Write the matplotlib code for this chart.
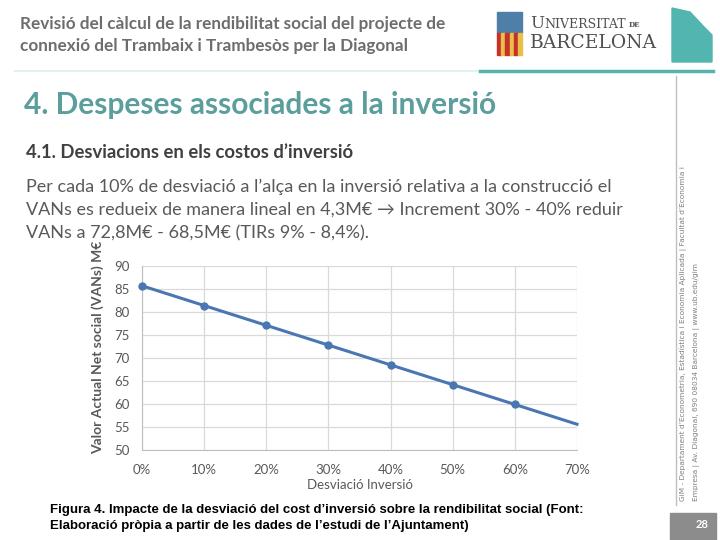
import matplotlib.pyplot as plt
from matplotlib.patches import Rectangle, Polygon
from matplotlib.lines import Line2D
from matplotlib.ticker import FuncFormatter

# data
desviacio = [0, 10, 20, 30, 40, 50, 60, 70]
vans = [85.7, 81.4, 77.1, 72.8, 68.5, 64.2, 59.9, 55.6]
y_ticks = [50, 55, 60, 65, 70, 75, 80, 85, 90]

W, H = 720, 540
fig = plt.figure(figsize=(7.2, 5.4), dpi=100)
fig.patch.set_facecolor("white")


def fx(px):
    return px / W


def fy(py):
    return 1 - py / H


def txt(x, y, s, **kw):
    kw.setdefault("va", "center")
    fig.text(fx(x), fy(y), s, **kw)


grey = "#7f7f7f"
teal = "#5b9e9c"

# header
txt(20, 24, "Revisió del càlcul de la rendibilitat social del projecte de",
    family="Lato", fontsize=12.3, color="#6d6d6d", fontweight="bold")
txt(20, 46, "connexió del Trambaix i Trambesòs per la Diagonal",
    family="Lato", fontsize=12.3, color="#6d6d6d", fontweight="bold")

# UB logo (simplified)
fig.add_artist(Rectangle((fx(497), fy(33)), fx(25), 21 / H, color="#4f7fa8"))
for i in range(6):
    c = "#c8302a" if i % 2 == 0 else "#e6c04a"
    fig.add_artist(Rectangle((fx(497 + i * 4.2), fy(55)), fx(4.2), 22 / H, color=c))
txt(530, 23, "U", family="DejaVu Serif", fontsize=12, color="#505050")
txt(544, 24, "NIVERSITAT", family="DejaVu Serif", fontsize=9, color="#505050")
txt(629, 25, "DE", family="DejaVu Serif", fontsize=5, color="#505050", fontweight="bold")
txt(530, 43, "BARCELONA", family="DejaVu Serif", fontsize=13.5, color="#505050")

# building image stand-in
fig.add_artist(Polygon([(fx(672), fy(8)), (fx(690), fy(12)), (fx(705), fy(28)),
                        (fx(712), fy(35)), (fx(712), fy(62)), (fx(672), fy(62))],
                       closed=True, color="#52b5b0"))
fig.add_artist(Line2D([fx(15), fx(480)], [fy(71), fy(71)], color="#e0f2f1", lw=1.5))
fig.add_artist(Line2D([fx(480), fx(713)], [fy(71), fy(71)], color="#57b3ad", lw=2.5))

# side strip
fig.add_artist(Line2D([fx(676), fx(676)], [fy(76), fy(505)], color="#bfbfbf", lw=1))
txt(683, 501, "GiM - Departament d\u2019Econometria, Estadística i Economia Aplicada | Facultat d\u2019Economia i",
    family="DejaVu Sans", fontsize=5.3, color=grey, rotation=90, ha="center", va="bottom")
txt(696, 501, "Empresa | Av. Diagonal, 690 08034 Barcelona | www.ub.edu/gim",
    family="DejaVu Sans", fontsize=5.3, color=grey, rotation=90, ha="center", va="bottom")
fig.add_artist(Rectangle((fx(670), fy(540)), fx(46), 27 / H, color="#8c8c8c"))
txt(708, 524, "28", family="Lato", fontsize=8, color="white", fontweight="bold", ha="right")

# slide text
txt(24, 105, "4. Despeses associades a la inversió",
    family="Lato", fontsize=21.5, color=teal, fontweight="bold")
txt(26, 152, "4.1. Desviacions en els costos d\u2019inversió",
    family="Lato", fontsize=13.3, color="#404040", fontweight="bold")
para = ["Per cada 10% de desviació a l\u2019alça en la inversió relativa a la construcció el",
        "VANs es redueix de manera lineal en 4,3M€ \u2192 Increment 30% - 40% reduir",
        "VANs a 72,8M€ - 68,5M€ (TIRs 9% - 8,4%)."]
for i, line in enumerate(para):
    txt(26, 187 + i * 23, line, family=["Lato", "DejaVu Sans"], fontsize=13, color="#595959")

# chart
ax = fig.add_axes([fx(142), fy(450), fx(577 - 142), (450 - 266) / H])
ax.plot(desviacio, vans, color="#4a76b2", lw=2.2, marker="o", markersize=5,
        markevery=list(range(7)), clip_on=False, zorder=3)
ax.set_xlim(0, 70)
ax.set_ylim(50, 90)
ax.set_xticks(desviacio)
ax.set_yticks(y_ticks)
ax.xaxis.set_major_formatter(FuncFormatter(lambda v, p: f"{v:.0f}%"))
ax.grid(True, color="#d9d9d9", lw=0.9)
ax.set_axisbelow(True)
for s in ["top", "right"]:
    ax.spines[s].set_visible(False)
for s in ["left", "bottom"]:
    ax.spines[s].set_color("#bfbfbf")
ax.tick_params(length=0, colors="#595959", labelsize=9.5)
ax.tick_params(axis="x", pad=10)
ax.tick_params(axis="y", pad=9)
for lab in ax.get_xticklabels() + ax.get_yticklabels():
    lab.set_family("Lato")
ax.set_xlabel("Desviació Inversió", family="Lato", fontsize=9.5, color="#595959", labelpad=2)
ax.set_ylabel("Valor Actual Net social (VANs) M€", family="Lato", fontsize=10,
              color="#595959", fontweight="bold")
ax.yaxis.set_label_coords(-0.088, 0.56)

# caption
txt(50, 510, "Figura 4. Impacte de la desviació del cost d\u2019inversió sobre la rendibilitat social (Font:",
    family="Liberation Sans", fontsize=9.5, color="black", fontweight="bold")
txt(50, 526, "Elaboració pròpia a partir de les dades de l\u2019estudi de l\u2019Ajuntament)",
    family="Liberation Sans", fontsize=9.5, color="black", fontweight="bold")

fig.savefig("out.png", dpi=100)
